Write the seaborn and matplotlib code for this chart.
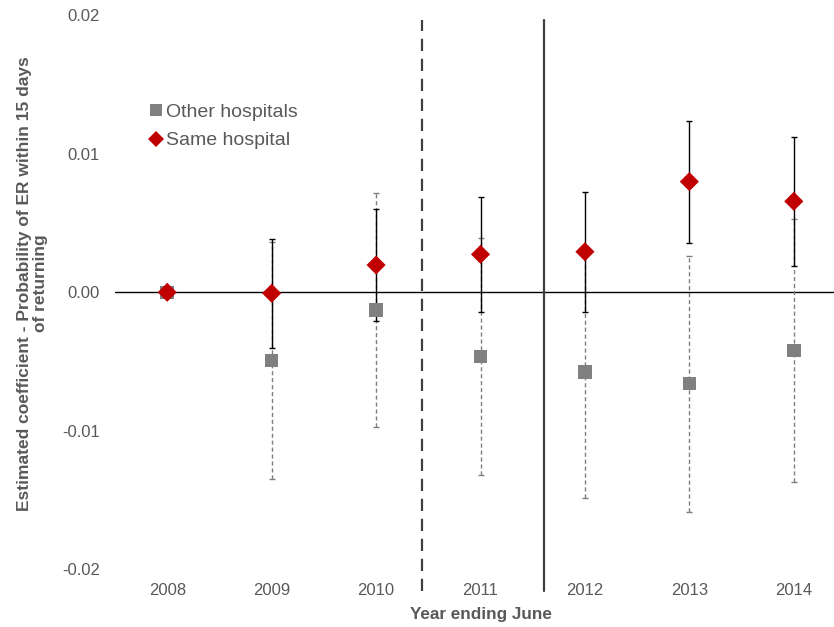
import numpy as np
import pandas as pd
import matplotlib
matplotlib.use("Agg")
import matplotlib.pyplot as plt
import seaborn as sns

# Year-by-year estimates with 95% confidence bounds
years = ["2008", "2009", "2010", "2011", "2012", "2013", "2014"]

other_coef = [0.0, -0.00494, -0.00128, -0.00465, -0.00575, -0.00660, -0.00421]
other_low = [0.0, -0.01350, -0.00975, -0.01320, -0.01485, -0.01584, -0.01370]
other_high = [0.0, 0.00362, 0.00719, 0.00390, 0.00335, 0.00264, 0.00528]

same_coef = [0.0, -0.00007, 0.00197, 0.00274, 0.00293, 0.00799, 0.00657]
same_low = [0.0, -0.00400, -0.00207, -0.00140, -0.00140, 0.00354, 0.00190]
same_high = [0.0, 0.00383, 0.00600, 0.00686, 0.00727, 0.01239, 0.01124]

series_names = ["Other hospitals", "Same hospital"]

# Policy markers placed between year categories
dashed_break = 2.44
solid_break = 3.61

sns.set_theme(style="white")
plt.rcParams["font.family"] = ["Liberation Sans", "DejaVu Sans"]
text_color = "#595959"

pos = np.arange(len(years))
df = pd.DataFrame({
    "pos": np.concatenate([pos, pos]),
    "coef": other_coef + same_coef,
    "series": [series_names[0]] * len(years) + [series_names[1]] * len(years),
})

fig = plt.figure(figsize=(8.34, 6.27), dpi=100)
ax = fig.add_axes([0.1379, 0.092, 0.8765, 0.8836])

# Confidence intervals: dashed grey for other hospitals, solid black for same hospital
o = np.array(other_coef)
eb1 = ax.errorbar(pos, o, yerr=[o - np.array(other_low), np.array(other_high) - o],
                  fmt="none", ecolor="#7f7f7f", elinewidth=1.0, capsize=2, capthick=1.0, zorder=2)
eb1[2][0].set_linestyle((0, (3, 2)))
s = np.array(same_coef)
ax.errorbar(pos, s, yerr=[s - np.array(same_low), np.array(same_high) - s],
            fmt="none", ecolor="#000000", elinewidth=1.0, capsize=2, capthick=1.0, zorder=2.5)

sns.scatterplot(data=df, x="pos", y="coef", hue="series", style="series",
                hue_order=series_names, style_order=series_names,
                palette={"Other hospitals": "#808080", "Same hospital": "#C00000"},
                markers={"Other hospitals": "s", "Same hospital": "D"},
                s=95, linewidth=0, ax=ax, zorder=3)

ax.axhline(0, color="black", lw=1.0, zorder=1)
ax.axvline(dashed_break, ymin=-0.039, ymax=0.9915, color="#404040", lw=1.6,
           ls=(0, (5.5, 3.5)), clip_on=False, zorder=1)
ax.axvline(solid_break, ymin=-0.039, ymax=0.9915, color="#404040", lw=1.6,
           clip_on=False, zorder=1)

ax.set_xlim(-0.5, 6.5)
ax.set_ylim(-0.02, 0.02)
ax.set_yticks([-0.02, -0.01, 0.0, 0.01, 0.02])
ax.set_yticklabels(["-0.02", "-0.01", "0.00", "0.01", "0.02"])
ax.set_xticks(pos)
ax.set_xticklabels(years)
ax.tick_params(axis="both", length=0, labelsize=12, labelcolor=text_color)
ax.tick_params(axis="y", pad=11)
ax.tick_params(axis="x", pad=10)
for sp in ax.spines.values():
    sp.set_visible(False)

ax.set_xlabel("Year ending June", fontsize=12.3, fontweight="bold", color=text_color, labelpad=6)
ax.set_ylabel("Estimated coefficient - Probability of ER within 15 days\nof returning",
              fontsize=12.5, fontweight="bold", color=text_color,
              multialignment="center", linespacing=1.05)
ax.yaxis.set_label_coords(-0.092, 0.516)

sns.move_legend(ax, "upper left", bbox_to_anchor=(0.032, 0.855), frameon=False, title=None,
                fontsize=14, handlelength=1.0, handletextpad=0.0, labelspacing=0.55,
                borderaxespad=0, markerscale=0.85)
for t in ax.get_legend().get_texts():
    t.set_color(text_color)

fig.savefig("out.png", dpi=100)
